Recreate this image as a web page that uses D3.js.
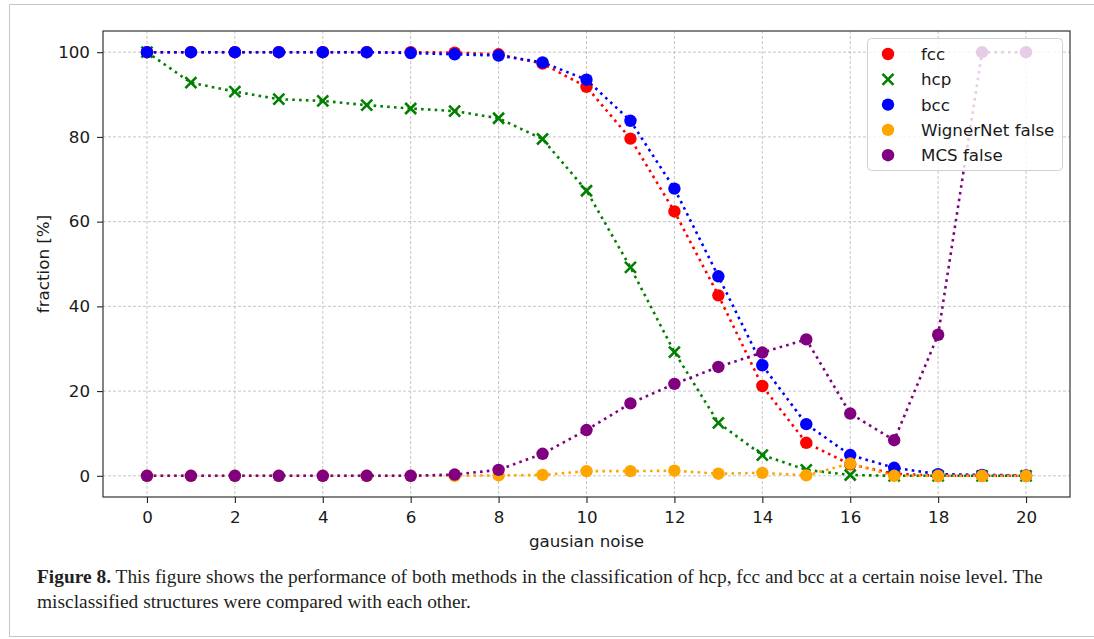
<!DOCTYPE html>
<html>
<head>
<meta charset="utf-8">
<script src="https://cdn.jsdelivr.net/npm/d3@7"></script>
<style>
  html, body { margin: 0; padding: 0; background: #fff; }
  svg { display: block; }
</style>
</head>
<body>
<svg id="fig" width="1094" height="639"></svg>
<script>
// noise levels on the x axis
const noise = [0,1,2,3,4,5,6,7,8,9,10,11,12,13,14,15,16,17,18,19,20];

// fraction of correctly classified structures [%]
const fcc = [100,100,100,100,100,100,100,99.9,99.5,97.3,91.8,79.6,62.4,42.6,21.2,7.8,2.7,0.5,0,0,0];
const hcp = [100,92.8,90.7,88.9,88.5,87.5,86.7,86.1,84.4,79.5,67.3,49.2,29.2,12.5,4.9,1.4,0.2,0,0,0,0];
const bcc = [100,100,100,100,100,100,99.8,99.5,99.2,97.6,93.5,83.8,67.8,47.1,26.1,12.2,4.9,1.9,0.4,0.2,0.1];

// fraction of misclassified structures [%]
const wignerFalse = [0,0,0,0,0,0,0,0,0.1,0.2,1.1,1.1,1.2,0.5,0.7,0.1,2.9,0,0,0,0];
const mcsFalse = [0,0,0,0,0,0,0,0.3,1.4,5.2,10.8,17.1,21.7,25.7,29.1,32.2,14.7,8.4,33.3,100,100];

const seriesNames = ["fcc", "hcp", "bcc", "WignerNet false", "MCS false"];
const seriesValues = [fcc, hcp, bcc, wignerFalse, mcsFalse];
const seriesColors = ["#ff0000", "#008000", "#0000ff", "#ffa500", "#800080"];
const seriesMarkers = ["circle", "cross", "circle", "circle", "circle"];

const xTicks = [0,2,4,6,8,10,12,14,16,18,20];
const yTicks = [0,20,40,60,80,100];

const captionBold = "Figure 8.";
const captionLine1 = " This figure shows the performance of both methods in the classification of hcp, fcc and bcc at a certain noise level. The";
const captionLine2 = "misclassified structures were compared with each other.";

const svg = d3.select("#fig");

// outer figure frame
svg.append("path")
  .attr("d", "M1094,4.5 H9.5 V636.5 H1094")
  .attr("fill", "none")
  .attr("stroke", "#c4c4c4")
  .attr("stroke-width", 1);

const plot = { left: 103, right: 1070, top: 31, bottom: 497 };

const x = d3.scaleLinear().domain([-1, 21]).range([plot.left, plot.right]);
const y = d3.scaleLinear().domain([-5, 105]).range([plot.bottom, plot.top]);

const font = "DejaVu Sans, sans-serif";
const fontSize = "16.7px";

// grid
const grid = svg.append("g").attr("stroke", "#b8b8b8").attr("stroke-width", 0.8)
  .attr("stroke-dasharray", "3,2");
xTicks.forEach(t => grid.append("line")
  .attr("x1", x(t)).attr("x2", x(t)).attr("y1", plot.top).attr("y2", plot.bottom));
yTicks.forEach(t => grid.append("line")
  .attr("x1", plot.left).attr("x2", plot.right).attr("y1", y(t)).attr("y2", y(t)));

// axes
const xAxis = d3.axisBottom(x).tickValues(xTicks).tickSize(6).tickPadding(8).tickFormat(d3.format("d"));
const yAxis = d3.axisLeft(y).tickValues(yTicks).tickSize(6).tickPadding(7).tickFormat(d3.format("d"));

const gx = svg.append("g").attr("transform", `translate(0,${plot.bottom})`).call(xAxis);
const gy = svg.append("g").attr("transform", `translate(${plot.left},0)`).call(yAxis);
[gx, gy].forEach(g => {
  g.select(".domain").remove();
  g.selectAll(".tick line").attr("stroke", "#222").attr("stroke-width", 1.1);
  g.selectAll(".tick text").attr("fill", "#1a1a1a").style("font-family", font).style("font-size", fontSize);
});

// series: dotted line followed by markers
const line = d3.line().x((d, i) => x(noise[i])).y(d => y(d));
const crossSize = 5.5;

seriesValues.forEach((vals, s) => {
  const g = svg.append("g");
  g.append("path")
    .attr("d", line(vals))
    .attr("fill", "none")
    .attr("stroke", seriesColors[s])
    .attr("stroke-width", 2.6)
    .attr("stroke-dasharray", "2.6,4.2");
  if (seriesMarkers[s] === "circle") {
    g.selectAll("circle").data(vals).join("circle")
      .attr("cx", (d, i) => x(noise[i]))
      .attr("cy", d => y(d))
      .attr("r", 6.2)
      .attr("fill", seriesColors[s]);
  } else {
    g.selectAll("path.mk").data(vals).join("path")
      .attr("class", "mk")
      .attr("d", (d, i) => {
        const cx = x(noise[i]), cy = y(d), k = crossSize;
        return `M${cx - k},${cy - k}L${cx + k},${cy + k}M${cx - k},${cy + k}L${cx + k},${cy - k}`;
      })
      .attr("stroke", seriesColors[s])
      .attr("stroke-width", 2.6)
      .attr("fill", "none");
  }
});

// spines
svg.append("rect")
  .attr("x", plot.left).attr("y", plot.top)
  .attr("width", plot.right - plot.left).attr("height", plot.bottom - plot.top)
  .attr("fill", "none").attr("stroke", "#333").attr("stroke-width", 1.2);

// axis labels
svg.append("text")
  .attr("x", (plot.left + plot.right) / 2).attr("y", 547)
  .attr("text-anchor", "middle")
  .style("font-family", font).style("font-size", fontSize).attr("fill", "#1a1a1a")
  .text("gausian noise");
svg.append("text")
  .attr("transform", `translate(49,${(plot.top + plot.bottom) / 2}) rotate(-90)`)
  .attr("text-anchor", "middle")
  .style("font-family", font).style("font-size", fontSize).attr("fill", "#1a1a1a")
  .text("fraction [%]");

// legend
const leg = svg.append("g").attr("transform", "translate(867,38)");
leg.append("rect")
  .attr("x", 0.5).attr("y", 0.5).attr("width", 195).attr("height", 132)
  .attr("rx", 4).attr("ry", 4)
  .attr("fill", "#fff").attr("fill-opacity", 0.8)
  .attr("stroke", "#d0d0d0").attr("stroke-width", 1);
seriesNames.forEach((name, s) => {
  const cy = 16 + s * 25.3;
  if (seriesMarkers[s] === "circle") {
    leg.append("circle").attr("cx", 21).attr("cy", cy).attr("r", 6.2).attr("fill", seriesColors[s]);
  } else {
    const k = crossSize;
    leg.append("path")
      .attr("d", `M${21 - k},${cy - k}L${21 + k},${cy + k}M${21 - k},${cy + k}L${21 + k},${cy - k}`)
      .attr("stroke", seriesColors[s]).attr("stroke-width", 2.6);
  }
  leg.append("text")
    .attr("x", 54).attr("y", cy + 6)
    .style("font-family", font).style("font-size", fontSize).attr("fill", "#1a1a1a")
    .text(name);
});

// caption: type size chosen so the first line fills the column width
const capX = 37, capRight = 1043;
const cap = svg.append("g")
  .style("font-family", "Liberation Serif, serif").style("font-size", "18px").attr("fill", "#231f20");
const t1 = cap.append("text").attr("x", capX).attr("y", 583);
t1.append("tspan").attr("font-weight", "bold").text(captionBold);
t1.append("tspan").text(captionLine1);
const natural = t1.node().getComputedTextLength();
cap.style("font-size", (18 * (capRight - capX) / natural) + "px");
cap.append("text").attr("x", capX).attr("y", 608).text(captionLine2);
</script>
</body>
</html>
